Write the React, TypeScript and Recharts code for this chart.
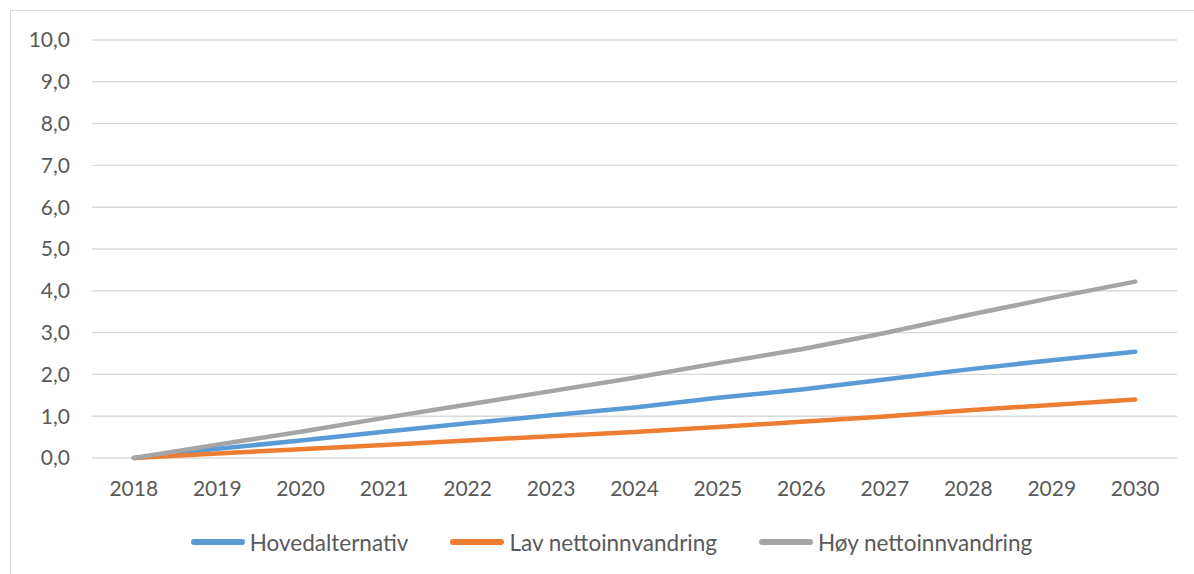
import React from "react";
import { LineChart, Line, XAxis, YAxis, CartesianGrid, Legend } from "recharts";

const years = ["2018", "2019", "2020", "2021", "2022", "2023", "2024", "2025", "2026", "2027", "2028", "2029", "2030"];
const hovedalternativ = [0, 0.22, 0.42, 0.63, 0.83, 1.02, 1.21, 1.44, 1.64, 1.88, 2.12, 2.34, 2.54];
const lavNetto = [0, 0.11, 0.21, 0.31, 0.42, 0.52, 0.62, 0.74, 0.87, 0.99, 1.14, 1.27, 1.4];
const hoyNetto = [0, 0.32, 0.63, 0.96, 1.28, 1.6, 1.92, 2.27, 2.6, 2.99, 3.42, 3.83, 4.22];
const yTicks = [0, 1, 2, 3, 4, 5, 6, 7, 8, 9, 10];

const series = [
  { key: "hoved", name: "Hovedalternativ", color: "#5B9BD5", values: hovedalternativ },
  { key: "lav", name: "Lav nettoinnvandring", color: "#ED7D31", values: lavNetto },
  { key: "hoy", name: "Høy nettoinnvandring", color: "#A5A5A5", values: hoyNetto },
];

const data = years.map((year, i) => {
  const row: Record<string, any> = { year };
  series.forEach((s) => {
    row[s.key] = s.values[i];
  });
  return row;
});

const FONT = "Lato, 'Open Sans', sans-serif";
const TEXT = "#595959";

const LegendContent = (props: any) => {
  const payload = [...(props.payload || [])].sort(
    (a: any, b: any) =>
      series.findIndex((s) => s.name === a.value) - series.findIndex((s) => s.name === b.value)
  );
  return (
    <div
      style={{
        height: 30,
        display: "flex",
        justifyContent: "center",
        alignItems: "center",
        paddingLeft: 29,
        fontFamily: FONT,
        fontSize: 22.5,
        color: TEXT,
      }}
    >
      {payload.map((p: any, i: number) => (
        <div key={i} style={{ display: "flex", alignItems: "center", marginRight: i < payload.length - 1 ? 42 : 0 }}>
          <div style={{ width: 54, height: 6, borderRadius: 3, background: p.color, marginRight: 5 }} />
          <span>{p.value}</span>
        </div>
      ))}
    </div>
  );
};

export default function App() {
  return (
    <div style={{ position: "absolute", left: 0, top: 0, width: 1194, height: 574, overflow: "hidden", background: "#fff" }}>
      <div
        style={{
          position: "absolute",
          left: 10,
          top: 10,
          width: 1300,
          height: 700,
          border: "1.5px solid #D9D9D9",
        }}
      />
      <div style={{ position: "absolute", left: 0, top: 0 }}>
        <LineChart width={1194} height={574} data={data} margin={{ top: 40, right: 17, bottom: 17, left: 0 }}>
          <CartesianGrid vertical={false} stroke="#D9D9D9" strokeWidth={1.4} />
          <XAxis
            dataKey="year"
            axisLine={false}
            tickLine={false}
            tickSize={0}
            tickMargin={23}
            height={69}
            padding={{ left: 41.8, right: 41.8 }}
            tick={{ fill: TEXT, fontSize: 21, fontFamily: FONT }}
            interval={0}
          />
          <YAxis
            domain={[0, 10]}
            ticks={yTicks}
            width={92}
            axisLine={false}
            tickLine={false}
            tickSize={0}
            tickMargin={22}
            tickFormatter={(v: number) => v.toFixed(1).replace(".", ",")}
            tick={{ fill: TEXT, fontSize: 21, fontFamily: FONT }}
            interval={0}
          />
          <Legend
            verticalAlign="bottom"
            content={<LegendContent />}
            wrapperStyle={{ left: 0, width: 1194, bottom: 17 }}
          />
          {series.map((s) => (
            <Line
              key={s.key}
              type="linear"
              dataKey={s.key}
              name={s.name}
              stroke={s.color}
              strokeWidth={4.5}
              strokeLinecap="round"
              strokeLinejoin="round"
              dot={false}
              activeDot={false}
              isAnimationActive={false}
            />
          ))}
        </LineChart>
      </div>
    </div>
  );
}
